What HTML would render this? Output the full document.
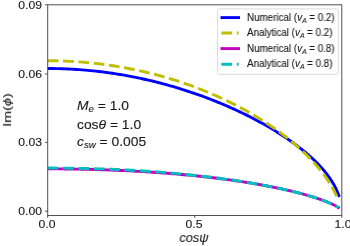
<!DOCTYPE html>
<html><head><meta charset="utf-8"><title>plot</title>
<style>
html,body{margin:0;padding:0;background:#fff;overflow:hidden;}
body{width:350px;height:246px;position:relative;overflow:hidden;font-family:"Liberation Sans",sans-serif;color:#1a1a1a;}
.t{position:absolute;white-space:nowrap;line-height:1;transform-origin:0 0;will-change:transform;-webkit-text-stroke:0.12px #1a1a1a;}
i{font-style:italic}
sub{font-size:70%;vertical-align:baseline;position:relative;top:0.27em;font-style:italic}
</style></head><body>
<svg width="350" height="246" viewBox="0 0 350 246" style="position:absolute;left:0;top:0">
<defs><clipPath id="ax"><rect x="47.7" y="4.8" width="294.1" height="210.7"/></clipPath></defs>
<g clip-path="url(#ax)" fill="none" stroke-width="2.9" stroke-linejoin="round">
<path d="M47.70,68.51 L50.62,68.52 L53.54,68.55 L56.44,68.60 L59.33,68.67 L62.21,68.75 L65.08,68.86 L67.93,68.98 L70.78,69.12 L73.61,69.28 L76.44,69.45 L79.25,69.65 L82.05,69.86 L84.84,70.09 L87.61,70.33 L90.38,70.59 L93.13,70.87 L95.88,71.16 L98.61,71.47 L101.33,71.80 L104.04,72.14 L106.73,72.49 L109.42,72.86 L112.09,73.25 L114.75,73.65 L117.40,74.06 L120.04,74.49 L122.67,74.93 L125.28,75.39 L127.88,75.86 L130.47,76.35 L133.05,76.84 L135.61,77.35 L138.17,77.88 L140.71,78.41 L143.24,78.96 L145.76,79.52 L148.26,80.10 L150.75,80.68 L153.23,81.28 L155.70,81.89 L158.16,82.51 L160.60,83.14 L163.03,83.78 L165.45,84.43 L167.86,85.09 L170.25,85.77 L172.63,86.45 L175.00,87.15 L177.35,87.85 L179.69,88.56 L182.02,89.29 L184.34,90.02 L186.64,90.76 L188.93,91.51 L191.21,92.27 L193.47,93.04 L195.72,93.82 L197.96,94.61 L200.19,95.40 L202.40,96.20 L204.60,97.01 L206.78,97.83 L208.95,98.66 L211.11,99.49 L213.25,100.33 L215.38,101.18 L217.50,102.03 L219.60,102.89 L221.69,103.76 L223.76,104.64 L225.83,105.52 L227.87,106.41 L229.91,107.30 L231.92,108.20 L233.93,109.11 L235.92,110.02 L237.90,110.94 L239.86,111.86 L241.80,112.79 L243.74,113.73 L245.66,114.67 L247.56,115.62 L249.45,116.57 L251.32,117.52 L253.18,118.48 L255.02,119.45 L256.85,120.42 L258.67,121.39 L260.46,122.37 L262.25,123.35 L264.01,124.34 L265.77,125.34 L267.50,126.33 L269.22,127.33 L270.93,128.34 L272.62,129.35 L274.29,130.36 L275.95,131.38 L277.59,132.40 L279.21,133.42 L280.82,134.45 L282.41,135.48 L283.98,136.51 L285.54,137.55 L287.08,138.60 L288.61,139.64 L290.11,140.69 L291.60,141.74 L293.07,142.80 L294.53,143.86 L295.97,144.92 L297.38,145.99 L298.79,147.06 L300.17,148.13 L301.53,149.21 L302.88,150.28 L304.21,151.37 L305.51,152.45 L306.80,153.54 L308.07,154.64 L309.32,155.73 L310.56,156.83 L311.77,157.93 L312.96,159.04 L314.13,160.15 L315.28,161.26 L316.41,162.38 L317.52,163.50 L318.61,164.62 L319.67,165.74 L320.72,166.87 L321.74,168.00 L322.74,169.14 L323.72,170.27 L324.67,171.42 L325.60,172.56 L326.51,173.70 L327.39,174.85 L328.25,176.00 L329.08,177.15 L329.88,178.30 L330.66,179.45 L331.41,180.60 L332.14,181.74 L332.83,182.89 L333.50,184.03 L334.14,185.16 L334.74,186.28 L335.32,187.38 L335.86,188.47 L336.36,189.53 L336.83,190.56 L337.26,191.56 L337.65,192.49 L338.00,193.36 L338.29,194.14 L338.53,194.81 L338.71,195.31 L338.80,195.56" stroke="#0000ff" stroke-linecap="square"/>
<path d="M47.70,60.73 L50.61,60.74 L53.50,60.77 L56.38,60.82 L59.26,60.88 L62.12,60.97 L64.97,61.08 L67.81,61.20 L70.64,61.34 L73.45,61.50 L76.26,61.68 L79.05,61.88 L81.84,62.09 L84.61,62.32 L87.37,62.57 L90.12,62.84 L92.85,63.12 L95.58,63.42 L98.29,63.73 L101.00,64.06 L103.69,64.41 L106.37,64.77 L109.04,65.15 L111.69,65.54 L114.34,65.95 L116.97,66.38 L119.59,66.82 L122.20,67.27 L124.80,67.74 L127.38,68.23 L129.96,68.73 L132.52,69.24 L135.07,69.76 L137.61,70.30 L140.13,70.86 L142.65,71.43 L145.15,72.01 L147.64,72.60 L150.12,73.21 L152.58,73.83 L155.03,74.46 L157.48,75.11 L159.90,75.77 L162.32,76.44 L164.72,77.12 L167.11,77.82 L169.49,78.53 L171.86,79.25 L174.21,79.98 L176.55,80.72 L178.88,81.47 L181.19,82.24 L183.49,83.02 L185.78,83.80 L188.06,84.60 L190.32,85.41 L192.57,86.23 L194.81,87.06 L197.03,87.90 L199.24,88.75 L201.44,89.61 L203.62,90.48 L205.80,91.36 L207.95,92.25 L210.10,93.15 L212.23,94.06 L214.34,94.98 L216.45,95.91 L218.54,96.84 L220.61,97.79 L222.68,98.74 L224.72,99.71 L226.76,100.68 L228.78,101.66 L230.79,102.64 L232.78,103.64 L234.76,104.64 L236.72,105.66 L238.67,106.68 L240.60,107.70 L242.53,108.74 L244.43,109.78 L246.32,110.83 L248.20,111.89 L250.06,112.95 L251.91,114.02 L253.74,115.10 L255.56,116.19 L257.36,117.28 L259.15,118.37 L260.92,119.48 L262.68,120.59 L264.42,121.70 L266.14,122.82 L267.85,123.95 L269.55,125.09 L271.23,126.22 L272.89,127.37 L274.53,128.52 L276.16,129.67 L277.78,130.83 L279.38,132.00 L280.96,133.17 L282.52,134.34 L284.07,135.52 L285.60,136.71 L287.12,137.89 L288.61,139.09 L290.09,140.28 L291.56,141.48 L293.00,142.68 L294.43,143.89 L295.84,145.10 L297.23,146.32 L298.61,147.53 L299.96,148.75 L301.30,149.98 L302.62,151.20 L303.92,152.43 L305.20,153.66 L306.46,154.89 L307.71,156.13 L308.93,157.36 L310.13,158.60 L311.32,159.84 L312.48,161.08 L313.63,162.32 L314.75,163.56 L315.85,164.80 L316.93,166.04 L317.99,167.28 L319.03,168.52 L320.05,169.76 L321.04,170.99 L322.01,172.23 L322.96,173.46 L323.88,174.68 L324.78,175.91 L325.66,177.12 L326.51,178.34 L327.34,179.54 L328.14,180.74 L328.91,181.93 L329.66,183.10 L330.38,184.27 L331.07,185.42 L331.73,186.55 L332.37,187.66 L332.97,188.75 L333.54,189.81 L334.08,190.84 L334.58,191.83 L335.04,192.78 L335.47,193.68 L335.86,194.51 L336.20,195.27 L336.50,195.94 L336.74,196.50 L336.91,196.92 L337.00,197.13" stroke="#bfbf00" stroke-dasharray="10.73,4.64"/>
<path d="M47.70,168.86 L50.62,168.86 L53.53,168.87 L56.43,168.88 L59.31,168.90 L62.19,168.92 L65.05,168.95 L67.90,168.98 L70.75,169.02 L73.58,169.06 L76.40,169.11 L79.20,169.16 L82.00,169.21 L84.79,169.27 L87.56,169.33 L90.32,169.40 L93.07,169.47 L95.81,169.55 L98.54,169.63 L101.25,169.71 L103.96,169.80 L106.65,169.90 L109.33,170.00 L112.00,170.10 L114.66,170.20 L117.31,170.31 L119.94,170.43 L122.56,170.54 L125.17,170.67 L127.77,170.79 L130.36,170.92 L132.93,171.06 L135.49,171.19 L138.04,171.34 L140.58,171.48 L143.11,171.63 L145.62,171.78 L148.12,171.94 L150.61,172.10 L153.09,172.26 L155.55,172.43 L158.01,172.60 L160.45,172.78 L162.87,172.96 L165.29,173.14 L167.69,173.32 L170.08,173.51 L172.46,173.71 L174.82,173.90 L177.17,174.10 L179.51,174.31 L181.84,174.51 L184.15,174.72 L186.45,174.94 L188.74,175.15 L191.01,175.37 L193.27,175.60 L195.52,175.83 L197.76,176.06 L199.98,176.29 L202.18,176.53 L204.38,176.77 L206.56,177.01 L208.73,177.26 L210.88,177.50 L213.02,177.76 L215.15,178.01 L217.26,178.27 L219.36,178.53 L221.45,178.80 L223.52,179.07 L225.58,179.34 L227.63,179.61 L229.66,179.89 L231.67,180.17 L233.67,180.45 L235.66,180.73 L237.63,181.02 L239.59,181.31 L241.54,181.61 L243.47,181.90 L245.38,182.20 L247.28,182.50 L249.17,182.80 L251.04,183.11 L252.90,183.42 L254.74,183.73 L256.56,184.04 L258.38,184.36 L260.17,184.68 L261.95,185.00 L263.72,185.32 L265.47,185.65 L267.20,185.97 L268.92,186.30 L270.62,186.63 L272.31,186.97 L273.98,187.30 L275.63,187.64 L277.27,187.98 L278.89,188.32 L280.50,188.66 L282.09,189.01 L283.66,189.35 L285.21,189.70 L286.75,190.05 L288.28,190.40 L289.78,190.75 L291.27,191.11 L292.74,191.46 L294.19,191.82 L295.62,192.17 L297.04,192.53 L298.44,192.89 L299.82,193.25 L301.18,193.61 L302.53,193.97 L303.85,194.34 L305.16,194.70 L306.45,195.06 L307.72,195.42 L308.97,195.79 L310.19,196.15 L311.40,196.52 L312.59,196.88 L313.76,197.24 L314.91,197.61 L316.04,197.97 L317.15,198.33 L318.23,198.70 L319.30,199.06 L320.34,199.42 L321.36,199.78 L322.36,200.14 L323.34,200.49 L324.29,200.85 L325.22,201.20 L326.12,201.55 L327.00,201.90 L327.86,202.25 L328.69,202.59 L329.49,202.93 L330.27,203.27 L331.02,203.60 L331.75,203.93 L332.44,204.25 L333.11,204.57 L333.75,204.88 L334.35,205.18 L334.92,205.48 L335.46,205.77 L335.97,206.04 L336.43,206.31 L336.86,206.56 L337.25,206.79 L337.60,207.00 L337.89,207.19 L338.14,207.34 L338.31,207.46 L338.40,207.52" stroke="#bf00bf" stroke-linecap="square"/>
<path d="M47.70,168.06 L50.62,168.06 L53.53,168.07 L56.43,168.08 L59.32,168.10 L62.20,168.12 L65.06,168.15 L67.92,168.18 L70.76,168.22 L73.59,168.26 L76.42,168.31 L79.23,168.36 L82.02,168.41 L84.81,168.47 L87.59,168.53 L90.35,168.60 L93.10,168.67 L95.84,168.75 L98.57,168.83 L101.29,168.92 L104.00,169.01 L106.69,169.10 L109.38,169.20 L112.05,169.31 L114.71,169.42 L117.35,169.53 L119.99,169.65 L122.61,169.78 L125.23,169.91 L127.83,170.04 L130.41,170.18 L132.99,170.32 L135.55,170.47 L138.11,170.62 L140.65,170.78 L143.17,170.94 L145.69,171.10 L148.19,171.27 L150.68,171.44 L153.16,171.62 L155.63,171.80 L158.08,171.99 L160.52,172.17 L162.95,172.37 L165.37,172.56 L167.77,172.76 L170.16,172.97 L172.54,173.17 L174.91,173.39 L177.26,173.60 L179.60,173.82 L181.93,174.04 L184.24,174.26 L186.55,174.49 L188.83,174.72 L191.11,174.96 L193.37,175.20 L195.62,175.44 L197.86,175.68 L200.08,175.93 L202.29,176.18 L204.49,176.44 L206.67,176.69 L208.84,176.95 L211.00,177.22 L213.14,177.48 L215.27,177.75 L217.38,178.03 L219.48,178.30 L221.57,178.58 L223.64,178.86 L225.70,179.14 L227.75,179.43 L229.78,179.71 L231.80,180.01 L233.80,180.30 L235.79,180.59 L237.77,180.89 L239.73,181.19 L241.67,181.50 L243.60,181.80 L245.52,182.11 L247.42,182.42 L249.31,182.73 L251.18,183.05 L253.04,183.36 L254.88,183.68 L256.71,184.00 L258.52,184.33 L260.32,184.65 L262.10,184.98 L263.87,185.31 L265.62,185.64 L267.35,185.97 L269.07,186.31 L270.77,186.64 L272.46,186.98 L274.13,187.32 L275.79,187.66 L277.43,188.00 L279.05,188.35 L280.66,188.69 L282.25,189.04 L283.82,189.39 L285.38,189.74 L286.92,190.09 L288.44,190.44 L289.95,190.79 L291.43,191.15 L292.91,191.50 L294.36,191.86 L295.80,192.22 L297.21,192.58 L298.61,192.94 L299.99,193.30 L301.36,193.66 L302.70,194.02 L304.03,194.38 L305.34,194.75 L306.63,195.11 L307.89,195.48 L309.14,195.84 L310.38,196.21 L311.59,196.57 L312.78,196.94 L313.95,197.30 L315.10,197.67 L316.23,198.03 L317.33,198.40 L318.42,198.76 L319.49,199.12 L320.53,199.48 L321.55,199.85 L322.55,200.21 L323.53,200.56 L324.48,200.92 L325.41,201.28 L326.31,201.63 L327.20,201.98 L328.05,202.33 L328.88,202.67 L329.69,203.01 L330.47,203.35 L331.22,203.69 L331.94,204.02 L332.64,204.34 L333.31,204.66 L333.94,204.98 L334.55,205.28 L335.12,205.58 L335.66,205.87 L336.17,206.15 L336.63,206.42 L337.06,206.67 L337.45,206.91 L337.80,207.12 L338.09,207.31 L338.34,207.47 L338.51,207.59 L338.60,207.65" stroke="#00bfbf" stroke-dasharray="10.73,4.64"/>
</g>
<g stroke="#505050" stroke-width="1" fill="none">
<rect x="47.7" y="4.8" width="294.1" height="210.7"/>
<path d="M47.7,215.5v2.4 M194.75,215.5v2.4 M341.8,215.5v2.4"/>
<path d="M47.7,211.2h-2.6 M47.7,142.3h-2.6 M47.7,73.9h-2.6 M47.7,4.8h-2.6"/>
</g>
<rect x="217.6" y="8.9" width="120.7" height="65.5" rx="2" ry="2" fill="#ffffff" fill-opacity="0.8" stroke="#dadada" stroke-width="1"/>
<g fill="none" stroke-width="2.9">
<path d="M220.5,17.6H240" stroke="#0000ff"/>
<path d="M221.4,33.0H238.6" stroke="#bfbf00" stroke-dasharray="10.73,4.64"/>
<path d="M220.5,48.6H240" stroke="#bf00bf"/>
<path d="M221.4,64.2H238.6" stroke="#00bfbf" stroke-dasharray="10.73,4.64"/>
</g>
</svg>
<div class="t" id="y09" style="right:308.5px;top:-0.5px;font-size:11.8px;transform-origin:100% 0;transform:scaleX(1.034);">0.09</div>
<div class="t" id="y06" style="right:308.5px;top:68.6px;font-size:11.8px;transform-origin:100% 0;transform:scaleX(1.034);">0.06</div>
<div class="t" id="y03" style="right:308.5px;top:137.0px;font-size:11.8px;transform-origin:100% 0;transform:scaleX(1.034);">0.03</div>
<div class="t" id="y00" style="right:308.5px;top:205.9px;font-size:11.8px;transform-origin:100% 0;transform:scaleX(1.034);">0.00</div>
<div class="t" id="x00" style="left:47.0px;top:219.1px;font-size:11.8px;transform-origin:50% 0;transform:translateX(-50%) scaleX(1.034);">0.0</div>
<div class="t" id="x05" style="left:194.1px;top:219.1px;font-size:11.8px;transform-origin:50% 0;transform:translateX(-50%) scaleX(1.034);">0.5</div>
<div class="t" id="x10" style="left:342.5px;top:219.1px;font-size:11.8px;transform-origin:50% 0;transform:translateX(-50%) scaleX(1.034);">1.0</div>
<div class="t" id="xl" style="left:194.0px;top:231.4px;font-size:13px;transform-origin:50% 0;transform:translateX(-50%) scaleX(0.98);"><i>cosψ</i></div>
<div class="t" id="yl" style="left:8.3px;top:109.6px;font-size:11.8px;transform-origin:50% 50%;transform:translate(-50%,-50%) rotate(-90deg) scaleX(1.22);">Im(<i>ϕ</i>)</div>
<div class="t" id="a1" style="left:76.6px;top:99px;font-size:13px;transform-origin:0 0;transform:scaleX(1.065);"><i>M</i><sub>e</sub> = 1.0</div>
<div class="t" id="a2" style="left:76.6px;top:118.2px;font-size:13px;transform-origin:0 0;transform:scaleX(1.065);">cos<i>θ</i> = 1.0</div>
<div class="t" id="a3" style="left:76.6px;top:135.2px;font-size:13px;transform-origin:0 0;transform:scaleX(1.065);"><i>c</i><sub>sw</sub> = 0.005</div>
<div class="t" id="l1" style="left:246.7px;top:12.8px;font-size:10.0px;transform-origin:0 0;transform:scaleX(0.98);">Numerical (<i>v</i><sub>A</sub> = 0.2)</div>
<div class="t" id="l2" style="left:246.7px;top:28.3px;font-size:10.0px;transform-origin:0 0;transform:scaleX(0.98);">Analytical (<i>v</i><sub>A</sub> = 0.2)</div>
<div class="t" id="l3" style="left:246.7px;top:43.8px;font-size:10.0px;transform-origin:0 0;transform:scaleX(0.98);">Numerical (<i>v</i><sub>A</sub> = 0.8)</div>
<div class="t" id="l4" style="left:246.7px;top:59.3px;font-size:10.0px;transform-origin:0 0;transform:scaleX(0.98);">Analytical (<i>v</i><sub>A</sub> = 0.8)</div>
</body></html>
